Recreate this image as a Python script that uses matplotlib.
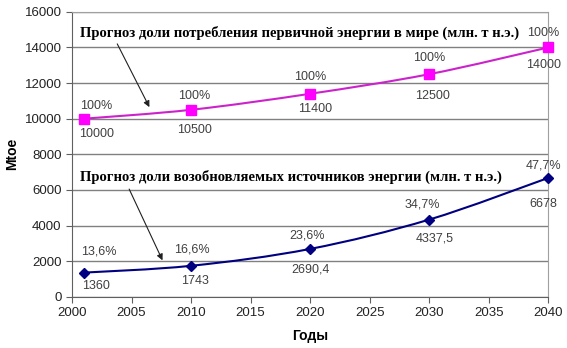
import matplotlib.pyplot as plt
from matplotlib.path import Path
from matplotlib.patches import PathPatch

# data
years = [2001, 2010, 2020, 2030, 2040]
total_energy = [10000, 10500, 11400, 12500, 14000]
total_pct = ['100%', '100%', '100%', '100%', '100%']
total_text = ['10000', '10500', '11400', '12500', '14000']
renew_energy = [1360, 1743, 2690.4, 4337.5, 6678]
renew_pct = ['13,6%', '16,6%', '23,6%', '34,7%', '47,7%']
renew_text = ['1360', '1743', '2690,4', '4337,5', '6678']

title_total = 'Прогноз доли потребления первичной энергии в мире (млн. т н.э.)'
title_renew = 'Прогноз доли возобновляемых источников энергии (млн. т н.э.)'


def smooth_path(xs, ys):
    # Excel-like smoothed line: Catmull-Rom segments as cubic Beziers
    verts = [(xs[0], ys[0])]
    codes = [Path.MOVETO]
    n = len(xs)
    for i in range(n - 1):
        x0, y0 = (xs[i - 1], ys[i - 1]) if i > 0 else (xs[i], ys[i])
        x1, y1 = xs[i], ys[i]
        x2, y2 = xs[i + 1], ys[i + 1]
        x3, y3 = (xs[i + 2], ys[i + 2]) if i + 2 < n else (x2, y2)
        c1 = (x1 + (x2 - x0) / 6, y1 + (y2 - y0) / 6)
        c2 = (x2 - (x3 - x1) / 6, y2 - (y3 - y1) / 6)
        verts += [c1, c2, (x2, y2)]
        codes += [Path.CURVE4] * 3
    return Path(verts, codes)


fig = plt.figure(figsize=(5.67, 3.48), dpi=100)
ax = fig.add_axes([0.127, 0.147, 0.840, 0.819])

ax.set_xlim(2000, 2040)
ax.set_ylim(0, 16000)
ax.set_xticks(range(2000, 2041, 5))
ax.set_yticks(range(0, 16001, 2000))
ax.yaxis.grid(True, color='#808080', lw=1.0)
ax.set_axisbelow(True)
for s in ['top', 'right']:
    ax.spines[s].set_color('#a0a0a0')
for s in ['left', 'bottom']:
    ax.spines[s].set_color('#606060')
ax.tick_params(direction='out', length=4, color='#606060', labelsize=9.5,
               labelcolor='#222222')
for lab in ax.get_xticklabels() + ax.get_yticklabels():
    lab.set_fontfamily('Liberation Sans')

# lines
ax.add_patch(PathPatch(smooth_path(years, total_energy), fill=False,
                       ec='#cc22cc', lw=1.5, zorder=3))
ax.plot(years, total_energy, ls='none', marker='s', ms=6.5, color='#ff00ff',
        zorder=4, clip_on=False)
ax.add_patch(PathPatch(smooth_path(years, renew_energy), fill=False,
                       ec='#000080', lw=1.5, zorder=3))
ax.plot(years, renew_energy, ls='none', marker='D', ms=5, color='#000080',
        zorder=4, clip_on=False)

# data labels (pixel offsets)
lab_kw = dict(textcoords='offset pixels', ha='center', va='center',
              fontsize=9, color='#404040', family='Liberation Sans')
total_up = [(12, 13), (3, 14), (0, 17), (0, 16), (-5, 14)]
total_dn = [(13, -15), (3, -20), (5, -15), (3, -22), (-5, -18)]
renew_up = [(15, 21), (1, 16), (-3, 13), (-7, 15), (-5, 12)]
renew_dn = [(12, -13), (4, -15), (0, -21), (5, -19), (-5, -26)]
for i, x in enumerate(years):
    ax.annotate(total_pct[i], (x, total_energy[i]), xytext=total_up[i], **lab_kw)
    ax.annotate(total_text[i], (x, total_energy[i]), xytext=total_dn[i], **lab_kw)
    ax.annotate(renew_pct[i], (x, renew_energy[i]), xytext=renew_up[i], **lab_kw)
    ax.annotate(renew_text[i], (x, renew_energy[i]), xytext=renew_dn[i], **lab_kw)

# series captions with arrows
cap_kw = dict(fontsize=10.5, family='Liberation Serif', fontweight='bold',
              color='black', va='center')
ax.text(2000.7, 14820, title_total, ha='left', clip_on=False, **cap_kw)
ax.text(2000.7, 6750, title_renew, ha='left', clip_on=False, **cap_kw)
arrow = dict(arrowstyle='-|>', color='#202020', lw=0.8, mutation_scale=9,
             shrinkA=0, shrinkB=0)
ax.annotate('', xy=(2006.5, 10650), xytext=(2003.8, 14200), arrowprops=arrow)
ax.annotate('', xy=(2007.6, 2050), xytext=(2004.8, 6050), arrowprops=arrow)

ax.set_ylabel('Mtoe', fontsize=10, fontweight='bold', family='Liberation Sans',
              labelpad=4)
ax.set_xlabel('Годы', fontsize=10, fontweight='bold', family='Liberation Sans',
              labelpad=7)

fig.savefig('out.png', dpi=100)
